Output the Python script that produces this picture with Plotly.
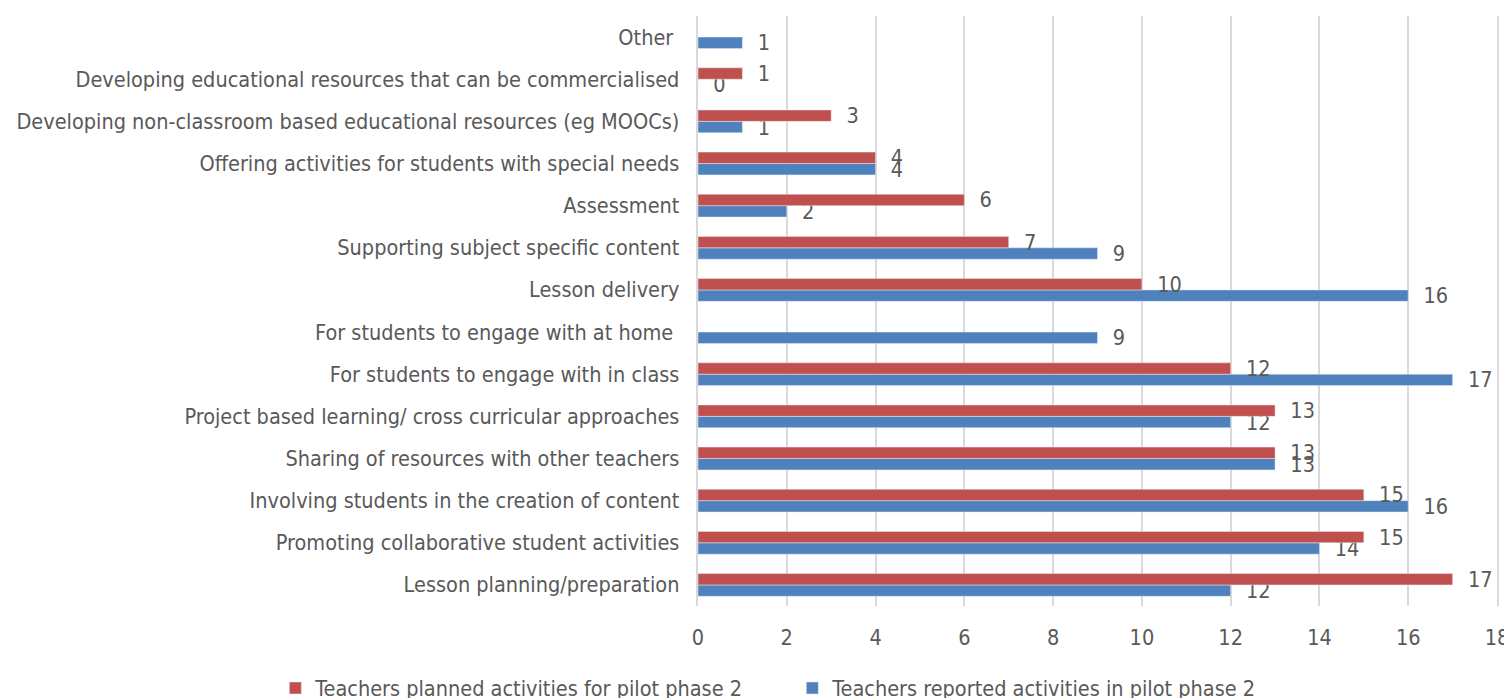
import plotly.graph_objects as go

categories = [
    "Lesson planning/preparation",
    "Promoting collaborative student activities",
    "Involving students in the creation of content",
    "Sharing of resources with other teachers",
    "Project based learning/ cross curricular approaches",
    "For students to engage with in class",
    "For students to engage with at home ",
    "Lesson delivery",
    "Supporting subject specific content",
    "Assessment",
    "Offering activities for students with special needs",
    "Developing non-classroom based educational resources (eg MOOCs)",
    "Developing educational resources that can be commercialised",
    "Other ",
]
planned = [17, 15, 15, 13, 13, 12, None, 10, 7, 6, 4, 3, 1, None]
reported = [12, 14, 16, 13, 12, 17, 9, 16, 9, 2, 4, 1, 0, 1]
x_ticks = [0, 2, 4, 6, 8, 10, 12, 14, 16, 18]

name_planned = "Teachers planned activities for pilot phase 2"
name_reported = "Teachers reported activities in pilot phase 2"

FONT = "DejaVu Sans Condensed, Liberation Sans Narrow, sans-serif"
GREY = "#595959"
GRID = "#D9D9D9"
FS = 21.5

fig = go.Figure()
fig.add_trace(go.Bar(
    y=categories, x=reported, orientation="h", name=name_reported,
    marker_color="#4F81BD",
    text=[("" if v is None else "  " + str(v)) for v in reported],
    textposition="outside", cliponaxis=False, constraintext="none",
    textfont=dict(size=FS, color=GREY, family=FONT),
    legendrank=2,
))
fig.add_trace(go.Bar(
    y=categories, x=planned, orientation="h", name=name_planned,
    marker_color="#C0504D",
    text=[("" if v is None else "  " + str(v)) for v in planned],
    textposition="outside", cliponaxis=False, constraintext="none",
    textfont=dict(size=FS, color=GREY, family=FONT),
    legendrank=1,
))

fig.update_layout(
    width=1512, height=698,
    margin=dict(l=690, r=23, t=8, b=100, autoexpand=False),
    barmode="group", bargap=0.46, bargroupgap=0.0,
    plot_bgcolor="white", paper_bgcolor="white",
    font=dict(family=FONT, size=FS, color=GREY),
    showlegend=True,
    legend=dict(orientation="h", x=-0.529, xanchor="left", y=-0.139, yanchor="middle",
                font=dict(size=FS, color=GREY), entrywidth=472, entrywidthmode="pixels",
                itemwidth=30, tracegroupgap=0),
)
fig.update_xaxes(range=[0, 18], tickvals=x_ticks, showgrid=True, gridcolor=GRID,
                 gridwidth=2, zeroline=False, showline=False, ticks="",
                 ticklabelstandoff=16, automargin=False,
                 tickfont=dict(size=FS, color=GREY))
fig.update_yaxes(categoryorder="array", categoryarray=categories, showgrid=False,
                 showline=True, mirror=True, linecolor=GRID, linewidth=2,
                 ticks="", ticksuffix="  ", automargin=False,
                 tickfont=dict(size=FS, color=GREY))

fig.write_html("out.html")
